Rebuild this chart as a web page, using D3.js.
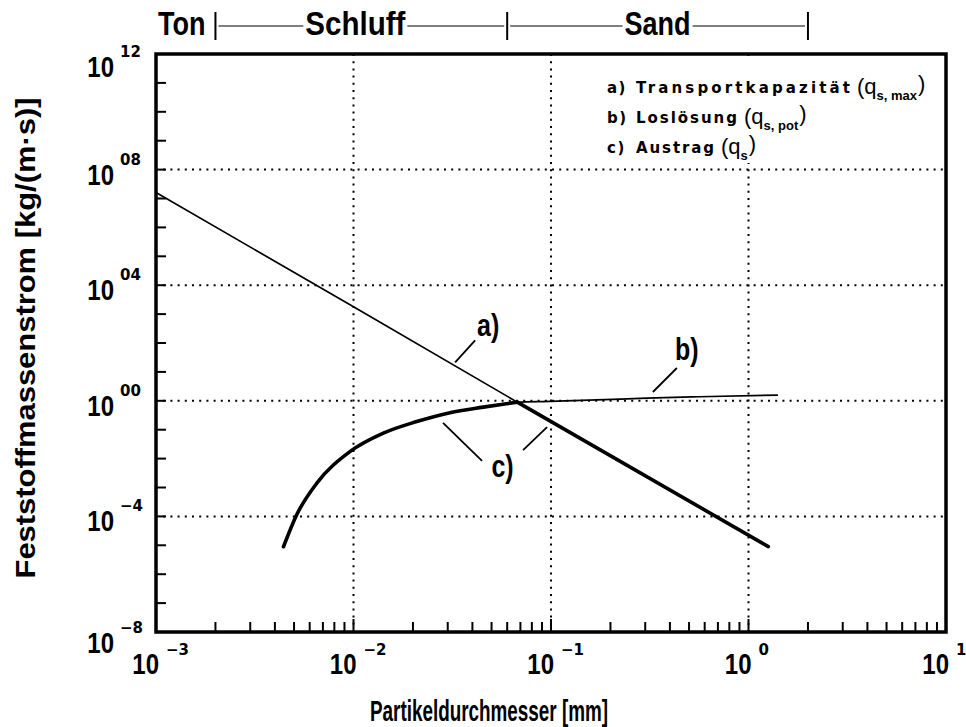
<!DOCTYPE html>
<html>
<head>
<meta charset="utf-8">
<script src="https://cdn.jsdelivr.net/npm/d3@7"></script>
<style>
  body { margin: 0; background: #fff; }
  svg { display: block; }
</style>
</head>
<body>
<svg id="chart" width="966" height="727"></svg>
<script>
// ---------- data ----------
// x axis: particle diameter in mm, decades 10^-3 … 10^1
const xDecades = [1e-3, 1e-2, 1e-1, 1e0, 1e1];
const xTickSup = ["\u22123", "\u22122", "\u22121", "0", "1"];
// y axis: sediment flux kg/(m·s), labelled every 4 decades
const yLabelValues = [1e12, 1e8, 1e4, 1e0, 1e-4, 1e-8];
const yTickSup = ["12", "08", "04", "00", "\u22124", "\u22128"];
const gridX = [1e-2, 1e-1, 1e0];
const gridY = [1e8, 1e4, 1e0, 1e-4];

// soil classes along the top (class boundaries in mm)
const soilNames = ["Ton", "Schluff", "Sand"];
const soilBounds = [0.002, 0.06, 2];

// a) transport capacity q_s,max
const capacityDiameter = [0.001, 0.01, 0.0675, 1.26];
const capacityFlux = [1.6e7, 1.8e3, 0.9, 9e-6];

// b) detachment q_s,pot
const detachDiameter = [0.00442, 0.00515, 0.00652, 0.00959, 0.01416, 0.0209, 0.0308, 0.0454, 0.0675, 0.0989, 0.170, 0.305, 0.56, 1.41];
const detachFlux = [8.9e-6, 1.12e-4, 1.41e-3, 0.0174, 0.0759, 0.191, 0.389, 0.603, 0.9, 0.96, 1.07, 1.23, 1.38, 1.58];

// c) yield q_s = lower of a) and b): rising part, then falling part
const yieldRiseDiameter = [0.00442, 0.00515, 0.00652, 0.00959, 0.01416, 0.0209, 0.0308, 0.0454, 0.0675];
const yieldRiseFlux = [8.9e-6, 1.12e-4, 1.41e-3, 0.0174, 0.0759, 0.191, 0.389, 0.603, 0.9];
const yieldFallDiameter = [0.0675, 1.26];
const yieldFallFlux = [0.9, 9e-6];

// legend
const legendKeys = ["a)", "b)", "c)"];
const legendNames = ["Transportkapazität", "Loslösung", "Austrag"];
const legendSubs = ["s, max", "s, pot", "s"];

// ---------- layout ----------
const svg = d3.select("#chart");
const L = 156, R = 946, T = 54, B = 632;
const x = d3.scaleLog().domain([1e-3, 1e1]).range([L, R]);
const y = d3.scaleLog().domain([1e-8, 1e12]).range([B, T]);

const NARROW = "'Liberation Sans Narrow', 'Arial Narrow', sans-serif";
const WIDE = "'DejaVu Sans', sans-serif";

// tall condensed text helper (vertical stretch like the plotter font)
function tallText(parent, tx, ty, str, size, anchor, stretch = 1.2) {
  const g = parent.append("g").attr("transform", `translate(${tx},${ty}) scale(1,${stretch})`);
  return g.append("text")
    .attr("x", 0).attr("y", 0)
    .attr("text-anchor", anchor || "start")
    .attr("font-family", NARROW)
    .attr("font-weight", "bold")
    .attr("font-size", size)
    .attr("fill", "#000")
    .text(str);
}

// ---------- grid ----------
const grid = svg.append("g")
  .attr("stroke", "#000").attr("stroke-width", 2)
  .attr("stroke-dasharray", "2,5.2");
grid.selectAll("line.gx").data(gridX).join("line")
  .attr("x1", d => x(d)).attr("x2", d => x(d))
  .attr("y1", T).attr("y2", B);
grid.selectAll("line.gy").data(gridY).join("line")
  .attr("x1", L).attr("x2", R)
  .attr("y1", d => y(d)).attr("y2", d => y(d));

// ---------- ticks ----------
const minorX = [];
xDecades.slice(0, -1).forEach(d => { for (let k = 2; k <= 9; k++) minorX.push(d * k); });
svg.append("g").attr("stroke", "#000").attr("stroke-width", 2)
  .selectAll("line").data(minorX).join("line")
  .attr("x1", d => x(d)).attr("x2", d => x(d))
  .attr("y1", B).attr("y2", B - 10);
svg.append("g").attr("stroke", "#000").attr("stroke-width", 2)
  .selectAll("line").data(xDecades.slice(1, -1)).join("line")
  .attr("x1", d => x(d)).attr("x2", d => x(d))
  .attr("y1", B).attr("y2", B - 13);

const yDecadeTicks = d3.range(-7, 12).map(e => Math.pow(10, e));
svg.append("g").attr("stroke", "#000").attr("stroke-width", 2)
  .selectAll("line").data(yDecadeTicks).join("line")
  .attr("x1", L).attr("x2", L + 10)
  .attr("y1", d => y(d)).attr("y2", d => y(d));

// ---------- legend backdrop (hides grid behind the legend) ----------
svg.append("rect")
  .attr("x", 600).attr("y", T + 3).attr("width", R - 603).attr("height", 106)
  .attr("fill", "#fff");

// ---------- curves ----------
const lineLin = d3.line().x(d => x(d[0])).y(d => y(d[1]));
const lineSmooth = d3.line().x(d => x(d[0])).y(d => y(d[1])).curve(d3.curveMonotoneX);

svg.append("path")
  .attr("d", lineLin(d3.zip(capacityDiameter, capacityFlux)))
  .attr("fill", "none").attr("stroke", "#000").attr("stroke-width", 1.7);
svg.append("path")
  .attr("d", lineSmooth(d3.zip(detachDiameter, detachFlux)))
  .attr("fill", "none").attr("stroke", "#000").attr("stroke-width", 1.7);
svg.append("path")
  .attr("d", lineSmooth(d3.zip(yieldRiseDiameter, yieldRiseFlux)))
  .attr("fill", "none").attr("stroke", "#000").attr("stroke-width", 3.6)
  .attr("stroke-linecap", "round");
svg.append("path")
  .attr("d", lineLin(d3.zip(yieldFallDiameter, yieldFallFlux)))
  .attr("fill", "none").attr("stroke", "#000").attr("stroke-width", 3.6)
  .attr("stroke-linecap", "round");

// ---------- frame ----------
svg.append("rect")
  .attr("x", L).attr("y", T).attr("width", R - L).attr("height", B - T)
  .attr("fill", "none").attr("stroke", "#000").attr("stroke-width", 3.5);

// ---------- tick labels ----------
xDecades.forEach((d, i) => {
  const px = x(d);
  tallText(svg, px + 3, 674, "10", 24, "end", 1.25);
  svg.append("text")
    .attr("x", px + 10).attr("y", 655)
    .attr("font-family", WIDE).attr("font-weight", "bold").attr("font-size", 15)
    .text(xTickSup[i]);
});

yLabelValues.forEach((v, i) => {
  const py = y(v);
  const shift = i === 0 ? 13 : (i === yLabelValues.length - 1 ? 11 : 5);
  const base = py + shift + 10;
  tallText(svg, 114, base, "10", 24, "end", 1.25);
  svg.append("text")
    .attr("x", 120).attr("y", base - 20)
    .attr("font-family", WIDE).attr("font-weight", "bold").attr("font-size", 15)
    .text(yTickSup[i]);
});

// ---------- axis titles ----------
tallText(svg, (L + R) / 2 - 62, 721, "Partikeldurchmesser [mm]", 23, "middle", 1.3)
  .attr("textLength", 238).attr("lengthAdjust", "spacingAndGlyphs");

const yTitle = svg.append("g").attr("transform", "translate(35,338) rotate(-90) scale(1,1.25)");
yTitle.append("text")
  .attr("text-anchor", "middle")
  .attr("font-family", NARROW).attr("font-weight", "bold").attr("font-size", 22)
  .attr("textLength", 481).attr("lengthAdjust", "spacingAndGlyphs")
  .text("Feststoffmassenstrom [kg/(m\u00b7s)]");

// ---------- soil class header ----------
const hdrY = 35, barTop = 12, barBot = 40, dashY = 26;
const hdr = svg.append("g");
hdr.selectAll("line.bar").data(soilBounds).join("line")
  .attr("x1", d => x(d)).attr("x2", d => x(d))
  .attr("y1", barTop).attr("y2", barBot)
  .attr("stroke", "#000").attr("stroke-width", 2);

tallText(hdr, x(soilBounds[0]) - 10, hdrY, soilNames[0], 27, "end", 1.25);
[1, 2].forEach(i => {
  const a = x(soilBounds[i - 1]), b = x(soilBounds[i]);
  const cx = Math.sqrt(soilBounds[i - 1] * soilBounds[i]);
  const mid = x(cx) - (i === 1 ? 6 : 0);
  const t = tallText(hdr, mid, hdrY, soilNames[i], 27, "middle", 1.25);
  if (i === 1) t.attr("textLength", 100).attr("lengthAdjust", "spacingAndGlyphs");
  const w = i === 1 ? 100 : t.node().getComputedTextLength();
  hdr.append("line").attr("x1", a + 3).attr("x2", mid - w / 2 - 2)
    .attr("y1", dashY).attr("y2", dashY).attr("stroke", "#000").attr("stroke-width", 1.2);
  hdr.append("line").attr("x1", mid + w / 2 + 2).attr("x2", b - 3)
    .attr("y1", dashY).attr("y2", dashY).attr("stroke", "#000").attr("stroke-width", 1.2);
});

// ---------- legend ----------
const legBase = [93, 123, 153];
const legNameWidth = [214, 101, 78];
legendKeys.forEach((k, i) => {
  const by = legBase[i];
  svg.append("text").attr("x", 607).attr("y", by)
    .attr("font-family", WIDE).attr("font-weight", "bold").attr("font-size", 15)
    .attr("letter-spacing", 1.5).text(k);
  svg.append("text").attr("x", 636).attr("y", by)
    .attr("font-family", WIDE).attr("font-weight", "bold").attr("font-size", 15)
    .attr("textLength", legNameWidth[i]).attr("lengthAdjust", "spacing")
    .text(legendNames[i]);
  const nx = 636 + legNameWidth[i] + 7;
  const p = svg.append("text").attr("x", nx).attr("y", by + 1)
    .attr("font-family", "'Liberation Sans', sans-serif").attr("font-size", 22)
    .text("(q");
  const px2 = nx + p.node().getComputedTextLength();
  const s = svg.append("text").attr("x", px2).attr("y", by + 7)
    .attr("font-family", "'Liberation Sans Narrow', sans-serif").attr("font-weight", "bold")
    .attr("font-size", 13).text(legendSubs[i]);
  const sx = px2 + s.node().getComputedTextLength() + 1;
  svg.append("text").attr("x", sx).attr("y", by - 2)
    .attr("font-family", "'Liberation Sans', sans-serif").attr("font-size", 22)
    .text(")");
});

// ---------- curve annotations ----------
const ann = svg.append("g");
function leader(x1, y1, x2, y2) {
  ann.append("line").attr("x1", x1).attr("y1", y1).attr("x2", x2).attr("y2", y2)
    .attr("stroke", "#000").attr("stroke-width", 1.8);
}
// a) on the capacity line
{
  const ax = x(0.0327);
  const ay = y(Math.pow(10, d3.scaleLinear().domain([Math.log10(capacityDiameter[0]), Math.log10(capacityDiameter[1])]).range([Math.log10(capacityFlux[0]), Math.log10(capacityFlux[1])])(Math.log10(0.0327))));
  leader(ax, ay - 3, ax + 20, ay - 25);
  tallText(ann, ax + 22, ay - 29, "a)", 25, "start", 1.25);
}
// b) on the detachment curve
{
  const bx = x(0.328), by = y(1.25);
  leader(bx, by - 6, bx + 24, by - 30);
  tallText(ann, bx + 22, by - 38, "b)", 25, "start", 1.25);
}
// c) pointing at both branches of the yield curve
{
  const c1x = x(0.0284), c1y = y(0.35);
  const c2x = x(0.0955), c2y = y(0.243);
  leader(c1x, c1y + 9, c1x + 39, c1y + 47);
  leader(c2x, c2y + 8.5, c2x - 24, c2y + 31.5);
  tallText(ann, (c1x + 39 + c2x - 24) / 2, c2y + 58, "c)", 25, "middle", 1.25);
}
</script>
</body>
</html>
